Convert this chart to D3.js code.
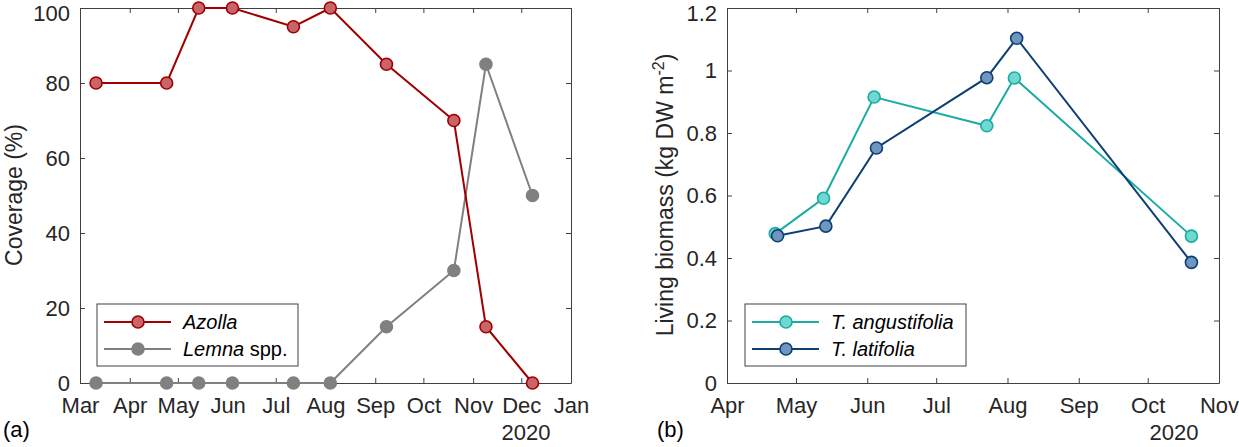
<!DOCTYPE html>
<html>
<head>
<meta charset="utf-8">
<script src="https://cdn.jsdelivr.net/npm/d3@7"></script>
<style>
  body { margin: 0; background: #fff; }
  svg { font-family: Arial, "Liberation Sans", sans-serif; }
</style>
</head>
<body>
<script>
// panel (a): floating plant coverage
const coverDates = ["2020-03-11","2020-04-24","2020-05-14","2020-06-04","2020-07-12","2020-08-04","2020-09-08","2020-10-20","2020-11-09","2020-12-08"];
const azolla = [80, 80, 100, 100, 95, 100, 85, 70, 15, 0];
const lemna = [0, 0, 0, 0, 0, 0, 15, 30, 85, 50];
const coverTicks = [0, 20, 40, 60, 80, 100];

// panel (b): living biomass of Typha
const angDates = ["2020-04-22","2020-05-13","2020-06-04","2020-07-23","2020-08-04","2020-10-20"];
const angBiomass = [0.478, 0.591, 0.915, 0.823, 0.976, 0.470];
const latDates = ["2020-04-23","2020-05-14","2020-06-05","2020-07-23","2020-08-05","2020-10-20"];
const latBiomass = [0.471, 0.502, 0.752, 0.977, 1.103, 0.386];
const biomassTicks = [0, 0.2, 0.4, 0.6, 0.8, 1, 1.2];

const parse = d3.timeParse("%Y-%m-%d");
const W = 1239, H = 447;
const axisCol = "#404040";

const svg = d3.select("body").append("svg")
    .attr("width", W)
    .attr("height", H);

// draws one boxed panel, returns scales
function panel(opt){
    const g = svg.append("g");
    const x = d3.scaleTime().domain(opt.xDomain).range([opt.x0, opt.x1]);
    const y = d3.scaleLinear().domain(opt.yDomain).range([opt.y1, opt.y0]);
    const months = d3.timeMonth.range(opt.xDomain[0], d3.timeDay.offset(opt.xDomain[1], 1));

    const xb = g.append("g").attr("transform", `translate(0,${opt.y1})`)
        .call(d3.axisBottom(x).tickValues(months).tickFormat(d3.timeFormat("%b"))
            .tickSizeInner(-5).tickSizeOuter(0).tickPadding(14));
    const xt = g.append("g").attr("transform", `translate(0,${opt.y0})`)
        .call(d3.axisTop(x).tickValues(months).tickFormat("")
            .tickSizeInner(-5).tickSizeOuter(0));
    const yl = g.append("g").attr("transform", `translate(${opt.x0},0)`)
        .call(d3.axisLeft(y).tickValues(opt.yTicks).tickFormat(d3.format("~g"))
            .tickSizeInner(-5).tickSizeOuter(0).tickPadding(10));
    const yr = g.append("g").attr("transform", `translate(${opt.x1},0)`)
        .call(d3.axisRight(y).tickValues(opt.yTicks).tickFormat("")
            .tickSizeInner(-5).tickSizeOuter(0));

    [xb, xt, yl, yr].forEach(a => {
        a.selectAll("path, line").attr("stroke", axisCol).attr("stroke-width", 1);
        a.selectAll("text").attr("fill", "#262626").style("font-size", "22px");
    });
    // keep the top tick label inside the picture
    yl.selectAll(".tick text").filter(d => d === opt.yDomain[1]).attr("dy", "0.58em");

    // year under the last month
    g.append("text")
        .attr("x", opt.x1 - 45).attr("y", 440)
        .attr("text-anchor", "middle")
        .style("font-size", "22px").attr("fill", "#262626")
        .text("2020");

    // panel letter
    g.append("text")
        .attr("x", opt.letterX).attr("y", 437)
        .style("font-size", "22px").attr("fill", "#000")
        .text(opt.letter);

    return {g, x, y};
}

function series(p, dates, vals, line, fill){
    const pts = dates.map((d, i) => ({t: parse(d), v: vals[i]}));
    p.g.append("path")
        .datum(pts)
        .attr("fill", "none")
        .attr("stroke", line)
        .attr("stroke-width", 2)
        .attr("d", d3.line().x(d => p.x(d.t)).y(d => p.y(d.v)));
    p.g.selectAll(null)
        .data(pts)
        .enter()
        .append("circle")
        .attr("cx", d => p.x(d.t))
        .attr("cy", d => p.y(d.v))
        .attr("r", 6)
        .attr("fill", fill)
        .attr("stroke", line)
        .attr("stroke-width", 1.6);
}

function legend(p, box, items){
    p.g.append("rect")
        .attr("x", box.x).attr("y", box.y)
        .attr("width", box.w).attr("height", box.h)
        .attr("fill", "#fff").attr("stroke", axisCol).attr("stroke-width", 1);
    items.forEach((it, i) => {
        const yy = box.y + 18 + i * 27;
        p.g.append("line")
            .attr("x1", box.x + 7).attr("x2", box.x + 74)
            .attr("y1", yy).attr("y2", yy)
            .attr("stroke", it.line).attr("stroke-width", 2);
        p.g.append("circle")
            .attr("cx", box.x + 41).attr("cy", yy).attr("r", 6)
            .attr("fill", it.fill).attr("stroke", it.line).attr("stroke-width", 1.6);
        const t = p.g.append("text")
            .attr("x", box.x + 86).attr("y", yy + 7)
            .style("font-size", "20px").attr("fill", "#000");
        t.append("tspan").style("font-style", "italic").text(it.name);
        if (it.extra) t.append("tspan").text(it.extra);
    });
}

// ---- panel (a)
const pa = panel({
    x0: 80, x1: 571, y0: 8, y1: 383,
    xDomain: [parse("2020-03-01"), parse("2021-01-01")],
    yDomain: [0, 100], yTicks: coverTicks,
    letter: "(a)", letterX: 3
});
series(pa, coverDates, lemna, "#808080", "#808080");
series(pa, coverDates, azolla, "#a00000", "#c8646a");
legend(pa, {x: 97, y: 304, w: 201, h: 62}, [
    {name: "Azolla", line: "#a00000", fill: "#c8646a"},
    {name: "Lemna", extra: " spp.", line: "#808080", fill: "#808080"}
]);
pa.g.append("text")
    .attr("transform", "translate(22,195) rotate(-90)")
    .attr("text-anchor", "middle")
    .style("font-size", "23px").attr("fill", "#262626")
    .text("Coverage (%)");

// ---- panel (b)
const pb = panel({
    x0: 727, x1: 1219, y0: 8, y1: 383,
    xDomain: [parse("2020-04-01"), parse("2020-11-01")],
    yDomain: [0, 1.2], yTicks: biomassTicks,
    letter: "(b)", letterX: 657
});
series(pb, angDates, angBiomass, "#1aaca2", "#6fd8d0");
series(pb, latDates, latBiomass, "#0d3f73", "#6e96c0");
legend(pb, {x: 745, y: 304, w: 221, h: 62}, [
    {name: "T. angustifolia", line: "#1aaca2", fill: "#6fd8d0"},
    {name: "T. latifolia", line: "#0d3f73", fill: "#6e96c0"}
]);
const yt = pb.g.append("text")
    .attr("transform", "translate(673,195) rotate(-90)")
    .attr("text-anchor", "middle")
    .style("font-size", "23px").attr("fill", "#262626");
yt.append("tspan").text("Living biomass (kg DW m");
yt.append("tspan").attr("dy", -9).style("font-size", "16px").text("-2");
yt.append("tspan").attr("dy", 9).text(")");
</script>
</body>
</html>
